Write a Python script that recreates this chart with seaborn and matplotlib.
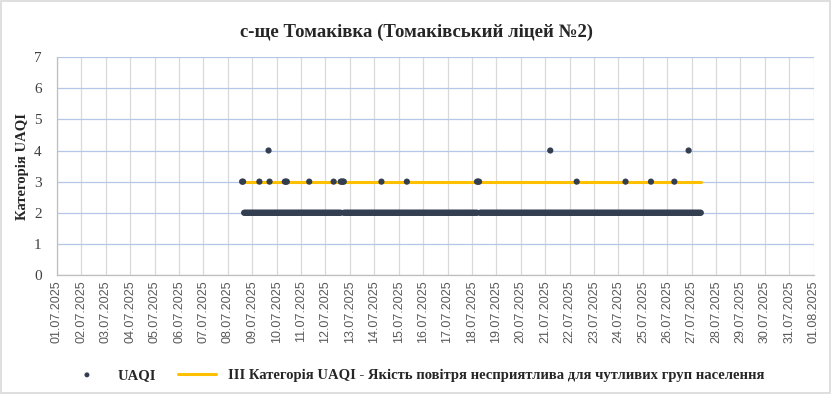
import pandas as pd
import matplotlib.pyplot as plt
import matplotlib.dates as mdates
from matplotlib.patches import Rectangle
import seaborn as sns

# readings
first_hour = "2025-07-08 16:00"
last_hour = "2025-07-27 09:00"
# short breaks in the category-2 band
missing_hours = ["2025-07-12 16:00", "2025-07-12 17:00",
                 "2025-07-18 06:00", "2025-07-18 07:00"]

cat3_hours = ["2025-07-08 14:00", "2025-07-08 15:00", "2025-07-09 07:00",
              "2025-07-09 17:00", "2025-07-10 08:00", "2025-07-10 09:00",
              "2025-07-10 10:00", "2025-07-11 08:00", "2025-07-12 08:00",
              "2025-07-12 15:00", "2025-07-12 16:00", "2025-07-12 17:00",
              "2025-07-12 18:00", "2025-07-14 07:00", "2025-07-15 08:00",
              "2025-07-18 05:00", "2025-07-18 06:00", "2025-07-18 07:00",
              "2025-07-22 07:00", "2025-07-24 07:00", "2025-07-25 08:00",
              "2025-07-26 07:00"]
cat4_hours = ["2025-07-09 16:00", "2025-07-21 05:00", "2025-07-26 21:00"]

# III category threshold line
threshold_dates = ["2025-07-08 14:00", "2025-07-27 09:00"]
threshold_values = [3, 3]

series_name = "UAQI"
threshold_name = "III Категорія UAQI - Якість повітря несприятлива для чутливих груп населення"
title = "с-ще Томаківка (Томаківський ліцей №2)"
ylabel = "Категорія UAQI"

# category 2 readings: hourly through the period apart from the breaks
hours = pd.date_range(first_hour, last_hour, freq="h")
cat2_hours = hours[~hours.isin(pd.to_datetime(missing_hours))]

data = pd.concat([
    pd.DataFrame({"time": cat2_hours, "value": 2}),
    pd.DataFrame({"time": pd.to_datetime(cat3_hours), "value": 3}),
    pd.DataFrame({"time": pd.to_datetime(cat4_hours), "value": 4}),
]).sort_values("time")

line = pd.DataFrame({"time": pd.to_datetime(threshold_dates),
                     "value": threshold_values})

sns.set_theme(style="white")
plt.rcParams['font.family'] = ['Liberation Serif', 'DejaVu Serif']

fig = plt.figure(figsize=(8.32, 3.94), dpi=100)
ax = fig.add_axes([0.0685, 0.302, 0.9095, 0.553])

sns.lineplot(data=line, x="time", y="value", ax=ax, color="#ffc000",
             linewidth=2.2, label=threshold_name, zorder=2)
sns.scatterplot(data=data, x="time", y="value", ax=ax, color="#333f50",
                s=20, edgecolor="none", label=series_name, zorder=3)

ax.set_xlim(pd.Timestamp("2025-07-01"), pd.Timestamp("2025-08-01"))
ax.set_ylim(0, 7)
ax.set_yticks(range(0, 8))
ax.xaxis.set_major_locator(mdates.DayLocator())
ax.xaxis.set_major_formatter(mdates.DateFormatter("%d.%m.%Y"))
plt.setp(ax.get_xticklabels(), rotation=90, family="Liberation Sans",
         fontsize=9, color="#595959")
plt.setp(ax.get_yticklabels(), fontsize=11, color="#404040")
ax.tick_params(axis="x", length=0, pad=4)
ax.tick_params(axis="y", length=0, pad=11)

ax.grid(axis="y", color="#b4c7e7", linewidth=0.9)
ax.grid(axis="x", color="#d9d9d9", linewidth=0.9)
ax.set_axisbelow(True)
for side in ["top", "right"]:
    ax.spines[side].set_visible(False)
for side in ["left", "bottom"]:
    ax.spines[side].set_color("#bfbfbf")
    ax.spines[side].set_linewidth(0.9)

ax.set_xlabel("")
ax.set_ylabel(ylabel, fontsize=10.5, fontweight="bold", labelpad=4)
fig.suptitle(title, x=0.5, y=0.94, fontsize=13.5, fontweight="bold")

handles, labels = ax.get_legend_handles_labels()
ax.legend(handles[::-1], labels[::-1], loc="center", ncol=2, frameon=False,
          bbox_to_anchor=(0.5, 0.048), bbox_transform=fig.transFigure,
          prop={"weight": "bold", "size": 10.5}, handlelength=2.6,
          columnspacing=1.5, markerscale=0.8)

fig.patches.append(Rectangle((0.001, 0.002), 0.997, 0.995, transform=fig.transFigure,
                             fill=False, edgecolor="#d9d9d9", linewidth=1.2))

plt.savefig("out.png", dpi=100)
